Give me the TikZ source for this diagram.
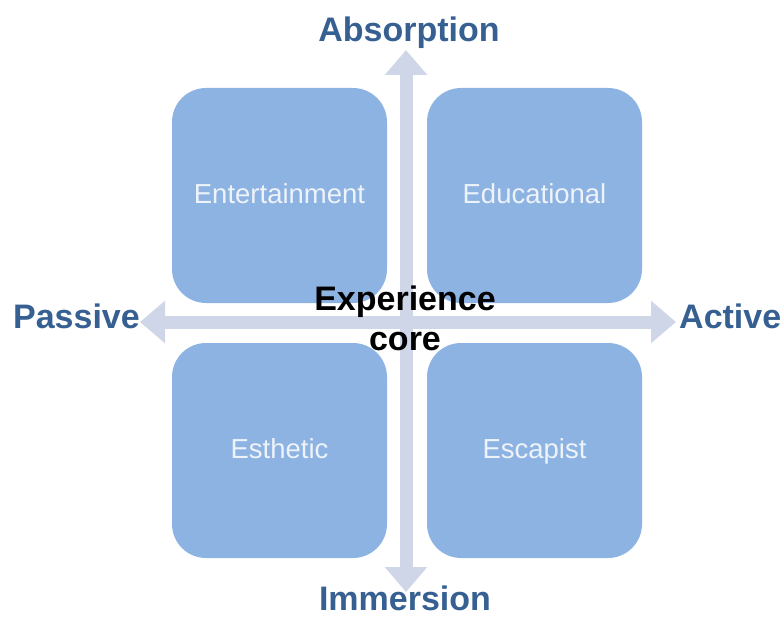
\documentclass[tikz,border=0pt]{standalone}
\usepackage{fontspec}
\setmainfont{Liberation Sans}
\usetikzlibrary{arrows.meta}

\definecolor{quadfill}{HTML}{8DB3E2}
\definecolor{quadtext}{HTML}{EEF3FA}
\definecolor{axisfill}{HTML}{CED6E7}
\definecolor{axislabel}{HTML}{376092}

\tikzset{
  quad/.style={fill=quadfill, rounded corners=34pt, minimum width=215pt,
    minimum height=215pt, inner sep=0pt, text=quadtext,
    text height=15pt, text depth=0pt,
    font=\fontsize{27.5}{32}\selectfont},
  axis/.style={draw=axisfill, line width=13pt,
    {Triangle[width=41pt,length=25pt]}-{Triangle[width=41pt,length=25pt]}},
  axislbl/.style={text=axislabel, font=\bfseries\fontsize{34}{38}\selectfont,
    inner sep=0pt, anchor=base},
  corelbl/.style={align=center, font=\bfseries\fontsize{34}{40}\selectfont, inner sep=0pt}
}

\begin{document}
\begin{tikzpicture}[x=1pt, y=-1pt]
        \useasboundingbox (0,0) rectangle (782,618);

        % quadrants
        \node[quad] (entertain) at (279.5,195.5) {Entertainment};
        \node[quad] (educate) at (534.5,195.5) {Educational};
        \node[quad] (esthetic) at (279.5,450.5) {Esthetic};
        \node[quad] (escape) at (534.5,450.5) {Escapist};

        % axes
        \coordinate (top) at (406,50);
        \coordinate (bottom) at (406,592);
        \coordinate (left) at (140,322);
        \coordinate (right) at (676,322);
        \draw[axis] (top) -- (bottom);
        \draw[axis] (left) -- (right);

        % labels
        \node[axislbl] (absorb) at (409,42) {Absorption};
        \node[axislbl] (immerse) at (405,610) {Immersion};
        \node[axislbl, anchor=base east] (passive) at (140,328) {Passive};
        \node[axislbl, anchor=base west] (active) at (679,328) {Active};
        \node[corelbl] (core) at (405,318) {Experience\\core};
\end{tikzpicture}
\end{document}
